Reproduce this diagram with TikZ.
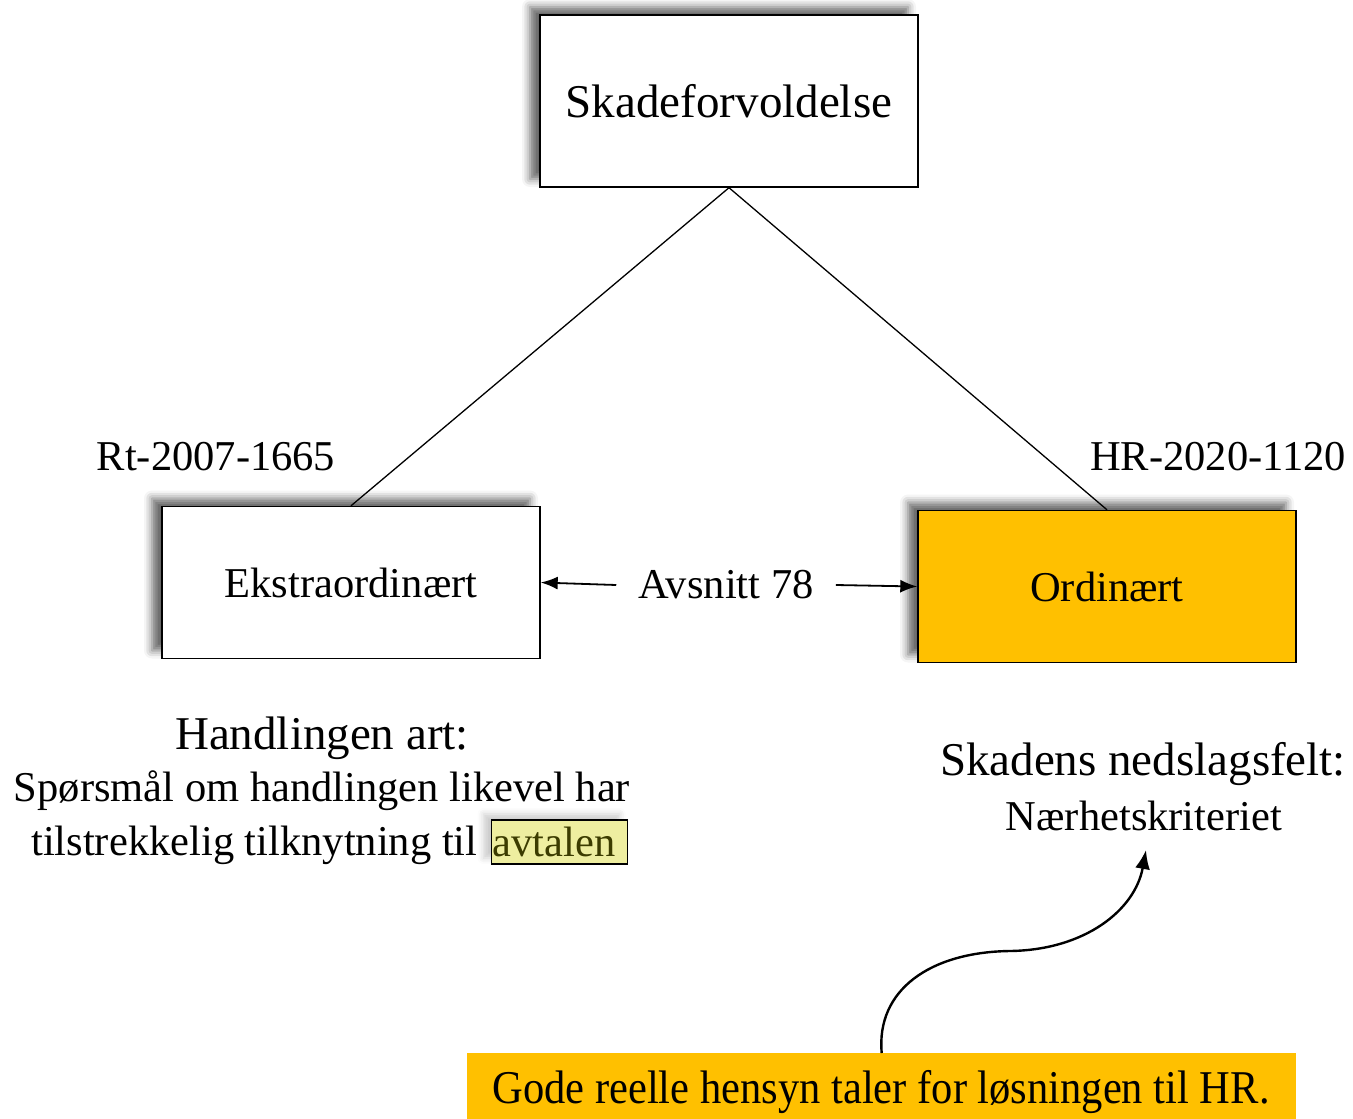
\documentclass[tikz,border=0pt]{standalone}
\usepackage{fontspec}
\setmainfont{Liberation Serif}
\usetikzlibrary{shadows.blur,arrows.meta}
\definecolor{gold}{RGB}{255,192,0}
\definecolor{hilite}{RGB}{238,238,160}
\definecolor{olive2}{RGB}{60,60,0}
\tikzset{
  big/.style={font=\fontsize{47}{52}\selectfont},
  mid/.style={font=\fontsize{42.5}{52}\selectfont},
  shadowed/.style={blur shadow={shadow xshift=-10pt,shadow yshift=8pt,shadow blur radius=8pt,shadow opacity=60}},
  boxnode/.style={draw=black,line width=1.4pt,minimum width=378pt,minimum height=152pt,inner sep=0pt,shadowed},
  conn/.style={line width=1.3pt},
  arr/.style={line width=1.8pt,-{Latex[length=17pt,width=13pt]}},
}
\begin{document}
\begin{tikzpicture}[x=1pt,y=-1pt]
\useasboundingbox (0,0) rectangle (1353,1119);
% boxes
\node[boxnode,fill=white,minimum height=172pt,big] (top) at (729,101) {Skadeforvoldelse};
\node[boxnode,fill=white,mid] (ek) at (351,582.5) {Ekstraordinært};
\node[boxnode,fill=gold,mid] (ord) at (1107,586.5) {Ordinært};
% case labels
\node[mid,inner sep=0pt] (rt) at (216,457) {Rt-2007-1665};
\node[mid,inner sep=0pt] (hr) at (1218,457) {HR-2020-1120};
% connectors
\draw[conn] (top.south) -- (ek.north);
\draw[conn] (top.south) -- (ord.north);
% avsnitt
\node[mid,inner xsep=22pt,inner ysep=0pt] (avs) at (726,585) {Avsnitt 78};
\draw[arr] (avs.west) -- (ek.east);
\draw[arr] (avs.east) -- (ord.west);
% left text
\node[big,inner sep=0pt] (hand) at (322,738) {Handlingen art:};
\node[mid,inner sep=0pt] (sp1) at (322,791) {Spørsmål om handlingen likevel har};
\node[mid,inner sep=0pt,anchor=base west] (sp2) at (31,855) {tilstrekkelig tilknytning til\strut};
\node[draw=black,line width=1.2pt,fill=hilite,text=olive2,mid,inner xsep=1pt,inner ysep=0pt,minimum height=44pt,anchor=west,
      blur shadow={shadow xshift=-8pt,shadow yshift=6pt,shadow blur radius=6pt,shadow opacity=20}] (avt) at (491,842) {\makebox[134pt][l]{avtalen}};
% right text
\node[big,inner sep=0pt] (sk) at (1143,764) {Skadens nedslagsfelt:};
\node[mid,inner sep=0pt] (nh) at (1144,816) {Nærhetskriteriet};
\coordinate (tip) at (1146,850);
% bottom box
\node[fill=gold,minimum width=829pt,minimum height=66pt,inner sep=0pt,anchor=north west] (gode) at (467,1053) {};
\node[big,inner sep=0pt,anchor=base] (godetxt) at (881,1103) {\scalebox{0.905}[1]{Gode reelle hensyn taler for løsningen til HR.}};
\draw[line width=2.4pt,-{Latex[length=19pt,width=15pt]}] (gode.north) .. controls (876,990) and (930,952) .. (1010,951) .. controls (1085,950) and (1135,910) .. (tip);
\end{tikzpicture}
\end{document}
